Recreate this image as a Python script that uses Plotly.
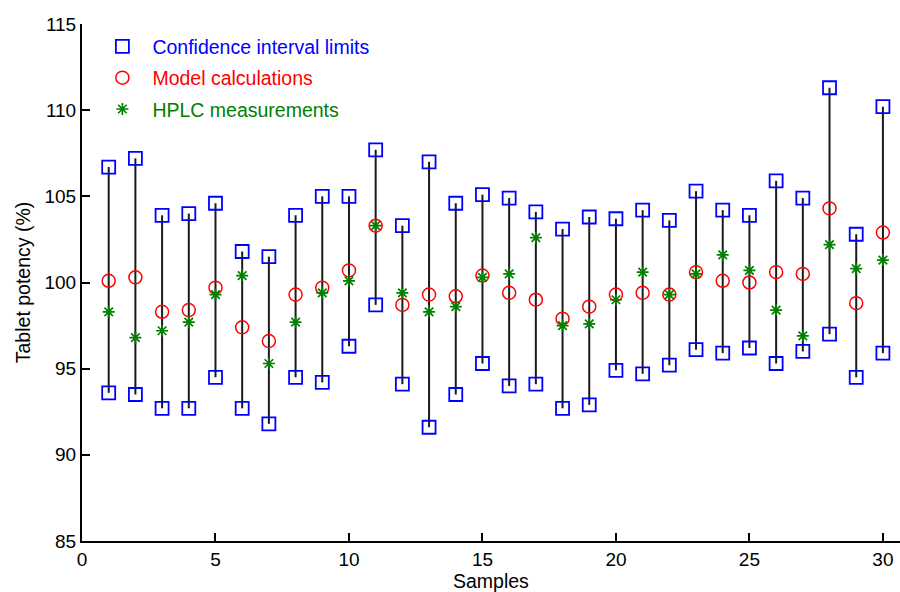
import plotly.graph_objects as go

samples = list(range(1, 31))
upper = [106.7, 107.2, 103.9, 104.0, 104.6, 101.8, 101.5, 103.9, 105.0, 105.0,
         107.7, 103.3, 107.0, 104.6, 105.1, 104.9, 104.1, 103.1, 103.8, 103.7,
         104.2, 103.6, 105.3, 104.2, 103.9, 105.9, 104.9, 111.3, 102.8, 110.2]
lower = [93.6, 93.5, 92.7, 92.7, 94.5, 92.7, 91.8, 94.5, 94.2, 96.3,
         98.7, 94.1, 91.6, 93.5, 95.3, 94.0, 94.1, 92.7, 92.9, 94.9,
         94.7, 95.2, 96.1, 95.9, 96.2, 95.3, 96.0, 97.0, 94.5, 95.9]
model = [100.1, 100.3, 98.3, 98.4, 99.7, 97.4, 96.6, 99.3, 99.7, 100.7,
         103.3, 98.7, 99.3, 99.2, 100.4, 99.4, 99.0, 97.9, 98.6, 99.3,
         99.4, 99.3, 100.6, 100.1, 100.0, 100.6, 100.5, 104.3, 98.8, 102.9]
hplc = [98.3, 96.8, 97.2, 97.7, 99.3, 100.4, 95.3, 97.7, 99.4, 100.1,
        103.3, 99.4, 98.3, 98.6, 100.3, 100.5, 102.6, 97.5, 97.6, 99.0,
        100.6, 99.3, 100.5, 101.6, 100.7, 98.4, 96.9, 102.2, 100.8, 101.3]

BLUE = "#0000FF"
RED = "#FF0000"
GREEN = "#008000"
FONT = "Liberation Sans, Arial, sans-serif"

lx, ly = [], []
for s, lo, up in zip(samples, lower, upper):
    lx += [s, s, None]
    ly += [lo, up, None]

fig = go.Figure()
fig.add_trace(go.Scatter(x=lx, y=ly, mode="lines", line=dict(color="#1a1a1a", width=2),
                         showlegend=False, hoverinfo="skip"))
fig.add_trace(go.Scatter(
    x=samples + samples, y=upper + lower, mode="markers",
    name=f'<span style="color:{BLUE}">Confidence interval limits</span>',
    legendgroup="a",
    marker=dict(symbol="square-open", size=13, color=BLUE, line=dict(width=1.8, color=BLUE))))
fig.add_trace(go.Scatter(
    x=samples, y=model, mode="markers",
    name=f'<span style="color:{RED}">Model calculations</span>',
    legendgroup="b",
    marker=dict(symbol="circle-open", size=13, color=RED, line=dict(width=1.5, color=RED))))
fig.add_trace(go.Scatter(
    x=samples, y=hplc, mode="markers",
    name=f'<span style="color:{GREEN}">HPLC measurements</span>',
    legendgroup="c",
    marker=dict(symbol="asterisk-open", size=10, color=GREEN, line=dict(width=1.7, color=GREEN))))

fig.update_layout(
    width=900, height=592,
    margin=dict(l=82, r=0, t=24, b=51),
    paper_bgcolor="white", plot_bgcolor="white",
    font=dict(family=FONT, size=19, color="black"),
    showlegend=True,
    legend=dict(x=0.0127, y=0.994, xanchor="left", yanchor="top",
                bgcolor="rgba(0,0,0,0)", borderwidth=0,
                font=dict(size=19.5), tracegroupgap=3, itemwidth=50),
    xaxis=dict(range=[0, 30.64], tickmode="array", tickvals=[0, 5, 10, 15, 20, 25, 30],
               ticks="inside", ticklen=8, tickwidth=1.5, tickcolor="black",
               showline=True, linewidth=2, linecolor="black", showgrid=False, zeroline=False,
               automargin=False),
    yaxis=dict(range=[85, 115], tickmode="array", tickvals=[85, 90, 95, 100, 105, 110, 115],
               ticks="inside", ticklen=8, tickwidth=1.5, tickcolor="black",
               showline=True, linewidth=2, linecolor="black", showgrid=False, zeroline=False,
               title=dict(text="Tablet potency (%)", standoff=9, font=dict(size=19.5)),
               automargin=False),
    annotations=[dict(text="Samples", xref="paper", yref="paper", x=0.5, y=0,
                      xanchor="center", yanchor="top", yshift=-27, showarrow=False,
                      font=dict(size=19.5, family=FONT, color="black"))],
)

fig.write_html("out.html")
